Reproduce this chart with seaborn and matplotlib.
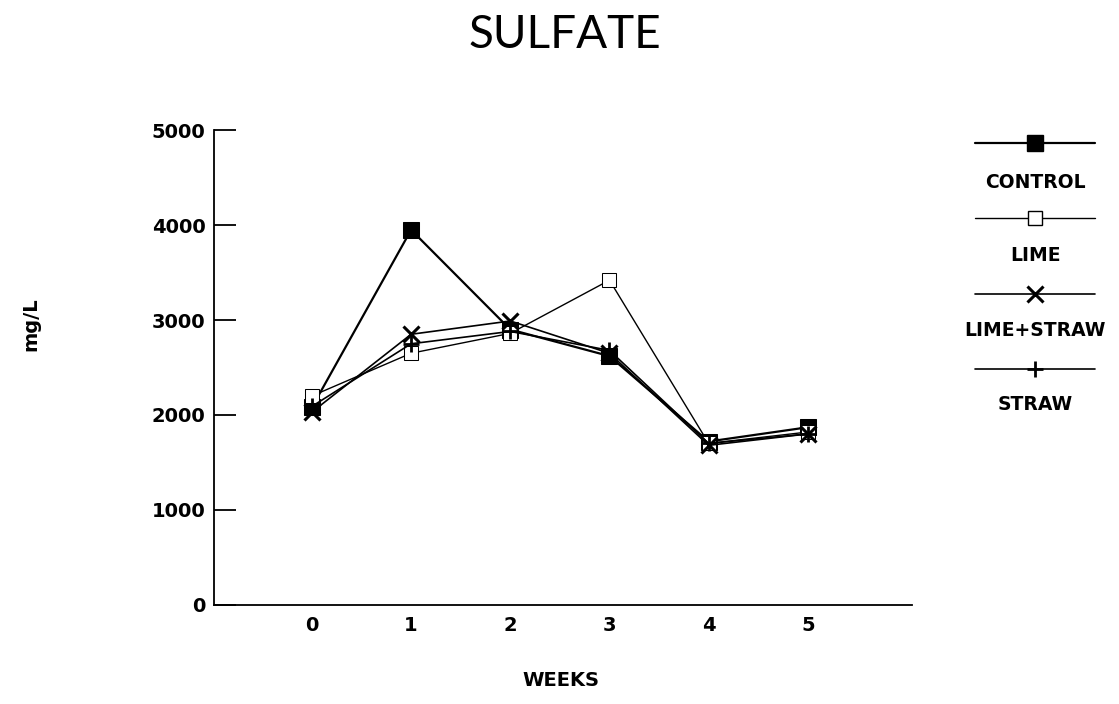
import numpy as np
import pandas as pd
import matplotlib
matplotlib.use("Agg")
import matplotlib.pyplot as plt
import seaborn as sns
from matplotlib.lines import Line2D

weeks = [0, 1, 2, 3, 4, 5]
control = [2080, 3950, 2900, 2620, 1720, 1870]
lime = [2200, 2650, 2860, 3420, 1700, 1820]
lime_straw = [2030, 2850, 2990, 2650, 1680, 1800]
straw = [2090, 2750, 2880, 2680, 1700, 1800]

treatments = ["CONTROL", "LIME", "LIME+STRAW", "STRAW"]
yticks = [0, 1000, 2000, 3000, 4000, 5000]

df = pd.DataFrame({
    "week": weeks * 4,
    "sulfate": control + lime + lime_straw + straw,
    "treatment": np.repeat(treatments, len(weeks)),
})

styles = {
    "CONTROL": dict(marker="s", markersize=11, markerfacecolor="black", lw=1.6),
    "LIME": dict(marker="s", markersize=10, markerfacecolor="white", lw=1.0),
    "LIME+STRAW": dict(marker="x", markersize=12, markeredgewidth=2.2, lw=1.2),
    "STRAW": dict(marker="+", markersize=12, markeredgewidth=2.0, lw=1.2),
}

sns.set_style("white")
plt.rcParams["font.family"] = ["DejaVu Sans"]
plt.rcParams["text.color"] = "black"
plt.rcParams["xtick.color"] = "black"
plt.rcParams["ytick.color"] = "black"

fig = plt.figure(figsize=(11.19, 7.04), dpi=100)
ax = fig.add_axes([0.191, 0.141, 0.624, 0.674])

for t in treatments:
    sns.lineplot(data=df[df["treatment"] == t], x="week", y="sulfate",
                 color="black", markeredgecolor="black", ax=ax,
                 legend=False, **styles[t])

ax.set_xlim(-0.99, 6.05)
ax.set_ylim(0, 5000)
ax.set_xticks(weeks)
ax.set_yticks(yticks)
ax.set_xticklabels([str(w) for w in weeks], fontsize=14, fontweight="bold")
ax.set_yticklabels([str(v) for v in yticks], fontsize=14, fontweight="bold")
ax.tick_params(axis="y", left=True, direction="in", length=16, width=1.3, pad=6)
ax.tick_params(axis="x", bottom=False, length=0, pad=8)
for s in ["top", "right"]:
    ax.spines[s].set_visible(False)
for s in ["left", "bottom"]:
    ax.spines[s].set_linewidth(1.3)
    ax.spines[s].set_color("black")
ax.set_xlabel("")
ax.set_ylabel("")

fig.text(0.501, 0.02, "WEEKS", ha="center", va="bottom", fontsize=14, fontweight="bold")
fig.text(0.028, 0.54, "mg/L", ha="center", va="center", rotation=90, fontsize=14, fontweight="bold")
fig.text(0.505, 0.95, "SULFATE", ha="center", va="center", fontsize=33,
         fontweight="normal", family=["Lato", "DejaVu Sans"])

# legend: sample line above each label
W, H = 1119, 704
line_y = [143, 218, 294, 369]
label_y = [182, 255, 330, 405]
for t, ly, ty in zip(treatments, line_y, label_y):
    st = dict(styles[t])
    fig.add_artist(Line2D([975 / W, 1035 / W, 1095 / W], [1 - ly / H] * 3,
                          color="black", markevery=[1], markeredgecolor="black",
                          transform=fig.transFigure, **st))
    fig.text(1035 / W, 1 - ty / H, t, ha="center", va="center", fontsize=13.5, fontweight="bold")

fig.savefig("out.png", dpi=100)
